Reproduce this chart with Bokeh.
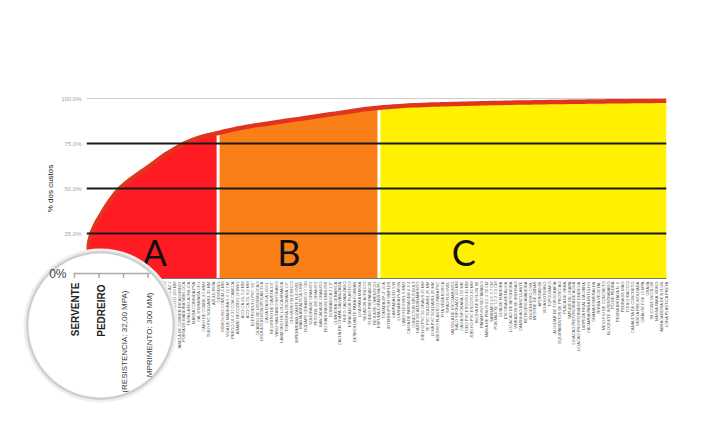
import math
from bokeh.plotting import figure
from bokeh.models import Range1d, FixedTicker, NumeralTickFormatter, Span
from bokeh.core.properties import value
from bokeh.embed import file_html
from bokeh.resources import INLINE

# ---------------- data ----------------
items = [
    "SERVENTE", "PEDREIRO", "CONCRETO FCK = 30MPA (RESISTENCIA: 32,00 MPA)",
    "BLOCO CERAMICO (COMPRIMENTO: 300 MM)", "ARMADOR", "CARPINTEIRO DE FORMAS",
    "ACO CA-50, 10,0 MM, VERGALHAO", "ELETRICISTA", "ENCANADOR OU BOMBEIRO", "PINTOR",
    "AREIA MEDIA", "CIMENTO PORTLAND CP II-32", "PEDRA BRITADA N. 1", "TELHA CERAMICA TIPO ROMANA",
    "AJUDANTE DE ARMADOR", "CHAPA DE MADEIRA COMPENSADA", "PISO CERAMICO 45 X 45 CM",
    "ARGAMASSA COLANTE AC-I", "TUBO PVC ESGOTO 100 MM", "JANELA DE CORRER EM ALUMINIO",
    "PORTA DE MADEIRA SEMI-OCA", "TINTA LATEX ACRILICA", "MASSA CORRIDA PVA", "CAL HIDRATADA CH-I",
    "CABO DE COBRE 2,5 MM2", "TUBO PVC SOLDAVEL 25 MM", "AZULEJISTA", "GESSEIRO",
    "VIDRO LISO COMUM 4 MM", "VIGA DE MADEIRA 6 X 12 CM",
    "PREGO 18 X 27 COM CABECA", "ARAME RECOZIDO 18 BWG", "ACO CA-60, 5,0 MM", "ACO CA-50, 8,0 MM",
    "ELETRODUTO PVC 3/4\"", "QUADRO DE DISTRIBUICAO", "DISJUNTOR MONOPOLAR 20 A",
    "CAIXA D'AGUA 1000 L", "REGISTRO DE GAVETA 3/4\"", "VASO SANITARIO SIFONADO",
    "LAVATORIO DE LOUCA BRANCA", "TORNEIRA CROMADA 1/2\"", "CHUVEIRO ELETRICO",
    "IMPERMEABILIZANTE FLEXIVEL", "MANTA ASFALTICA 3 MM", "RODAPE CERAMICO 7 CM",
    "SOLEIRA DE GRANITO", "PEITORIL DE GRANITO", "BANCADA DE GRANITO", "FECHADURA DE EMBUTIR",
    "DOBRADICA 3 1/2\"", "CUMEEIRA CERAMICA", "CALHA EM CHAPA GALVANIZADA", "RUFO GALVANIZADO",
    "ESPACADOR PLASTICO", "DESMOLDANTE PARA FORMAS", "LIXA PARA MASSA", "SELADOR ACRILICO",
    "FUNDO PREPARADOR", "REJUNTE CIMENTICIO",
    "ESPUMA EXPANSIVA PU", "TOMADA 2P+T 10 A", "INTERRUPTOR SIMPLES", "LAMPADA LED 9 W",
    "LUMINARIA PLAFON", "CABO FLEXIVEL 6 MM2", "CAIXA DE PASSAGEM 4 X 2", "CONECTOR SPLIT BOLT",
    "HASTE DE ATERRAMENTO", "JOELHO PVC 90 GRAUS 25 MM",
    "TE PVC SOLDAVEL 25 MM", "LUVA PVC SOLDAVEL 25 MM", "ADESIVO PLASTICO PARA PVC",
    "FITA VEDA ROSCA", "SIFAO FLEXIVEL", "VALVULA DE ESCOAMENTO", "RALO SIFONADO 100 MM",
    "CAIXA SIFONADA 150 MM", "TUBO PVC ESGOTO 40 MM", "JOELHO PVC ESGOTO 40 MM",
    "BUCHA DE NYLON S8", "PARAFUSO SEXTAVADO", "TABUA DE PINUS 2,5 X 30 CM", "SARRAFO 2,5 X 7 CM",
    "PONTALETE 7,5 X 7,5 CM", "GUIA DE MADEIRA", "ESCORA METALICA", "LOCACAO DE BETONEIRA",
    "VIBRADOR DE IMERSAO", "CAMINHAO BASCULANTE",
    "RETROESCAVADEIRA", "ENGENHEIRO CIVIL", "MESTRE DE OBRAS", "APONTADOR", "VIGIA NOTURNO",
    "TOPOGRAFO", "AUXILIAR DE TOPOGRAFIA", "EQUIPAMENTOS DE PROTECAO", "PLACA DE OBRA",
    "TAPUME DE CHAPA",
    "LIGACAO PROVISORIA DE AGUA", "LIGACAO PROVISORIA DE ENERGIA", "LIMPEZA FINAL DA OBRA",
    "CACAMBA PARA ENTULHO", "GRAMA ESMERALDA", "TERRA VEGETAL", "MEIO-FIO DE CONCRETO",
    "BLOQUETE INTERTRAVADO", "PO DE PEDRA", "PEDRA BRITADA N. 0",
    "PEDRA DE MAO", "TIJOLO MACICO", "CANALETA DE CONCRETO", "VERGA PRE-MOLDADA",
    "GRAUTE FGK 15 MPA", "GRAXA", "SILICONE INCOLOR", "MASSA PARA VIDRO",
    "ABRACADEIRA DE NYLON", "LONA PLASTICA PRETA",
]

cum_share = [
    0.14, 0.25, 0.31, 0.355, 0.40, 0.44, 0.475, 0.505, 0.528, 0.55,
    0.569, 0.588, 0.607, 0.626, 0.646, 0.666, 0.686, 0.702, 0.718, 0.734,
    0.749, 0.761, 0.772, 0.781, 0.789, 0.796, 0.802, 0.808, 0.815, 0.821,
    0.827, 0.833, 0.838, 0.843, 0.848, 0.852, 0.856, 0.860, 0.864, 0.868,
    0.872, 0.876, 0.880, 0.884, 0.888, 0.892, 0.896, 0.900, 0.904, 0.908,
    0.912, 0.916, 0.920, 0.924, 0.928, 0.932, 0.936, 0.940, 0.943, 0.946,
    0.949, 0.951, 0.953, 0.955, 0.957, 0.959, 0.961, 0.962, 0.963, 0.964,
    0.965, 0.966, 0.967, 0.968, 0.9686, 0.9692, 0.970, 0.9705, 0.971, 0.9717,
    0.9724, 0.973, 0.9737, 0.9744, 0.975, 0.9756, 0.9762, 0.9767, 0.9772, 0.9776,
    0.978, 0.9784, 0.9788, 0.9792, 0.9796, 0.980, 0.9804, 0.9808, 0.9812, 0.9816,
    0.982, 0.9823, 0.9826, 0.9829, 0.9832, 0.9835, 0.9838, 0.9841, 0.9844, 0.9847,
    0.985, 0.9853, 0.9856, 0.9859, 0.9862, 0.9865, 0.9868, 0.9871, 0.9874, 0.9877,
]

class_names = ["A", "B", "C"]
class_sizes = [28, 33, 59]
class_colors = ["#fe1b24", "#fb7f17", "#fff100"]
y_ticks = [0.0, 0.25, 0.5, 0.75, 1.0]

N = len(items)
xs = list(range(N))

# ---------------- figure ----------------
p = figure(width=708, height=424, x_range=Range1d(0, N - 1), y_range=Range1d(0, 1),
           output_backend="svg", toolbar_location=None,
           min_border_left=86, min_border_right=42, min_border_top=98, min_border_bottom=146,
           outline_line_color=None, background_fill_color="white", border_fill_color="white")
p.xgrid.visible = False
p.ygrid.visible = False

# class areas
start = 0
boundaries = []
for name, size, color in zip(class_names, class_sizes, class_colors):
    end = start + size - 1
    lo = max(start - 1, 0)
    p.varea(x=xs[lo:end + 1], y1=0, y2=cum_share[lo:end + 1], fill_color=color)
    boundaries.append(end)
    start = end + 1
sep = boundaries[:-1]
p.segment(x0=sep, y0=[0] * len(sep), x1=sep, y1=[cum_share[b] for b in sep],
          line_color="white", line_width=3)

# horizontal reference lines
for t in y_ticks[1:-1]:
    p.add_layout(Span(location=t, dimension="width", line_color="#1a1a1a", line_width=2))
p.add_layout(Span(location=y_ticks[-1], dimension="width", line_color="#a0a0a0", line_width=1))

# cumulative curve
p.line(xs, cum_share, line_color="#e2341d", line_width=4.5, line_join="round")

# class letters
p.text(x=[14, 41.5, 77.4], y=[0.145] * 3, text=class_names, text_font=value("Lato"),
       text_font_size="36px", text_align="center", text_baseline="alphabetic", text_color="#111111")

# axes
p.xaxis.ticker = FixedTicker(ticks=xs)
p.xaxis.major_label_overrides = {i: items[i] for i in xs}
p.xaxis.major_label_orientation = math.pi / 2
p.xaxis.major_label_text_font_size = "4px"
p.xaxis.major_label_text_font = "Liberation Sans"
p.xaxis.major_label_text_color = "#5a5a5a"
p.xaxis.major_label_standoff = 3
p.xaxis.major_tick_out = 0
p.xaxis.major_tick_in = 0
p.xaxis.minor_tick_line_color = None
p.xaxis.axis_line_color = "#777777"

p.yaxis.ticker = FixedTicker(ticks=y_ticks)
p.yaxis.formatter = NumeralTickFormatter(format="0.0%")
p.yaxis.major_label_text_font_size = "6px"
p.yaxis.major_label_text_font = "Liberation Sans"
p.yaxis.major_label_text_color = "#a3a3a3"
p.yaxis.major_label_standoff = 5
p.yaxis.major_tick_out = 0
p.yaxis.major_tick_in = 0
p.yaxis.axis_line_color = None
p.yaxis.major_tick_line_color = None
p.yaxis.minor_tick_line_color = None
p.yaxis.axis_label = "% dos custos"
p.yaxis.axis_label_text_font = "Liberation Sans"
p.yaxis.axis_label_text_font_size = "8px"
p.yaxis.axis_label_text_font_style = "normal"
p.yaxis.axis_label_text_color = "#222222"
p.yaxis.axis_label_standoff = 3

# ---------------- magnifier (decoration, placed in screen pixels) ----------------
FL, FR, FT, FB = 86, 666, 98, 278


def dx(px):
    return (px - FL) * (N - 1) / (FR - FL)


def dy(py):
    return (FB - py) / (FB - FT)


cx, cy = dx(100), dy(325)
for size, col in [(154, "#efefef"), (149, "#d0d0d0"), (144, "white")]:
    p.scatter([cx], [cy], size=size, marker="circle", fill_color=col, line_color=None, level="overlay")

p.line([dx(73), dx(150)], [dy(273), dy(273)], line_color="#aaaaaa", line_width=1.5, level="overlay")
tick_px = [74, 98.5, 123, 147.5]
p.segment(x0=[dx(t) for t in tick_px], y0=[dy(273)] * 4, x1=[dx(t) for t in tick_px],
          y1=[dy(277.5)] * 4, line_color="#aaaaaa", line_width=1.5, level="overlay")
p.text(x=[dx(66)], y=[dy(273.5)], text=["0%"], text_font=value("Liberation Sans"),
       text_font_size="12px", text_align="right", text_baseline="middle",
       text_color="#444444", level="overlay")

mag_bold = [items[0], items[1]]
mag_reg = [items[2][items[2].index("("):], items[3][items[3].index("MPRIMENTO"):]]
p.text(x=[dx(75.3), dx(100.7)], y=[dy(282), dy(284)], text=mag_bold, angle=math.pi / 2,
       text_font=value("Liberation Sans"), text_font_style="bold", text_font_size="10px",
       text_align="right", text_baseline="middle", text_color="#1e1e1e", level="overlay")
p.text(x=[dx(123.5), dx(149)], y=[dy(290), dy(292)], text=mag_reg, angle=math.pi / 2,
       text_font=value("Liberation Sans"), text_font_size="8px",
       text_align="right", text_baseline="middle", text_color="#3a3a3a", level="overlay")

open("out.html", "w").write(file_html(p, INLINE))
